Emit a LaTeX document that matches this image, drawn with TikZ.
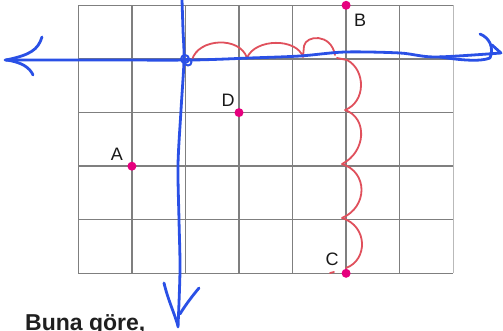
\documentclass[tikz,border=0pt]{standalone}
\usepackage{fontspec}
\setmainfont{Liberation Sans}
\definecolor{gridgray}{HTML}{7F7F7F}
\definecolor{axisblue}{HTML}{2A50E6}
\definecolor{routered}{HTML}{E0505C}
\definecolor{ptpink}{HTML}{E6007E}
\begin{document}
\begin{tikzpicture}[x=1pt,y=-1pt,
  gridline/.style={draw=gridgray,line width=1.4pt},
  axis/.style={draw=axisblue,line width=2.8pt,line cap=round,line join=round},
  route/.style={draw=routered,line width=1.8pt,line cap=round,line join=round},
  pt/.style={circle,fill=ptpink,inner sep=0pt,minimum size=9pt},
  lbl/.style={font=\fontsize{18}{20}\selectfont,text=black!90,inner sep=0pt}]
\useasboundingbox (0,0) rectangle (503,331);
\fill[white] (0,0) rectangle (503,331);
% grid
\foreach \x in {78.3,131.9,185.4,239,292.6,346.1,399.7}
  \draw[gridline] (\x,5.3) -- (\x,273.3);
\draw[gridline,draw=gray!55] (453.3,5.3) -- (453.3,273.3);
\foreach \y in {5.3,59,112.6,166.2,219.7,273.3}
  \draw[gridline] (78.3,\y) -- (453.3,\y);
% red route
\draw[route] (192,60) .. controls (198,38) and (240,36) .. (247,58)
  .. controls (255,38) and (297,38) .. (303,57)
  -- (304,46) .. controls (306,35) and (331,33) .. (335,55);
\draw[route] (337,58) -- (347,60) .. controls (366,70) and (366,102) .. (345,110)
  .. controls (368,118) and (366,152) .. (342,164)
  .. controls (368,172) and (368,207) .. (342,218)
  .. controls (368,226) and (368,260) .. (346,268);
\draw[route] (330,273) -- (334,272);
% blue axes
\draw[axis] plot[smooth] coordinates {(5,60) (100,60) (192,60) (250,58) (300,56) (345,52) (400,53) (435,57) (501,53)};
\draw[axis] (42,37) .. controls (38,50) and (30,55) .. (6,60);
\draw[axis] (33,75) .. controls (30,68) and (22,62) .. (6,60);
\draw[axis] (480,34) .. controls (490,38) and (494,48) .. (490,58) .. controls (480,62) and (460,60) .. (440,57);
\draw[axis] (492,45) -- (501,53);
\draw[axis] plot[smooth] coordinates {(182,0) (183,30) (184,60) (181,110) (178,165) (179,220) (180,270) (178,327)};
\draw[axis] (164,283) .. controls (168,300) and (174,312) .. (178,326);
\draw[axis] (199,288) .. controls (194,294) and (186,304) .. (180,314);
\draw[axis,line width=2pt] (185,59) circle (4);
\draw[axis,line width=2pt] (188,62) circle (3.5);
% points
\node[pt] (B) at (346.1,5.3) {};
\node[pt] (D) at (239,112.6) {};
\node[pt] (A) at (131.9,166.2) {};
\node[pt] (C) at (346.1,273.3) {};
\node[lbl] (lB) at (360,20) {B};
\node[lbl] (lD) at (228,100) {D};
\node[lbl] (lA) at (117,154) {A};
\node[lbl] (lC) at (332,259) {C};
\node[anchor=base west,inner sep=0pt,font=\bfseries\fontsize{23}{26}\selectfont,text=black!88] (txt) at (25,330) {Buna göre,};
\end{tikzpicture}
\end{document}
